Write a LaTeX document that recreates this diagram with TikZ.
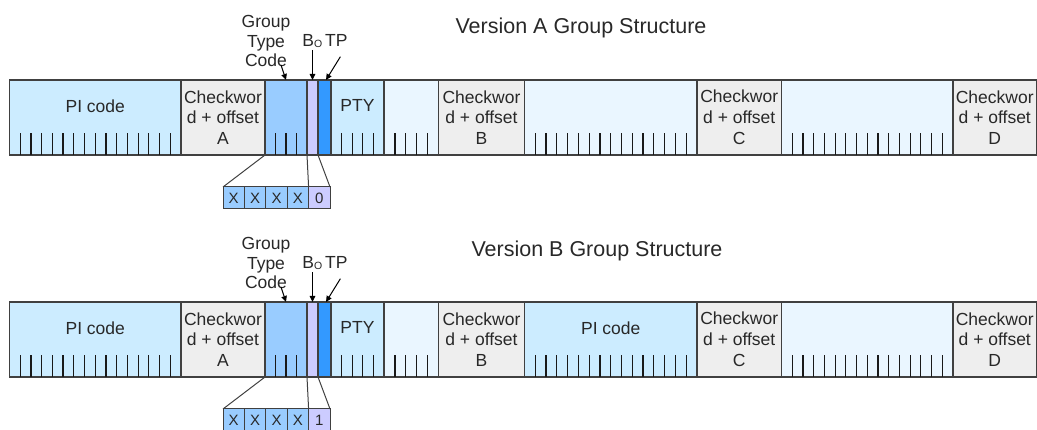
\documentclass[tikz,border=0pt]{standalone}
\usepackage{fontspec}
\setmainfont{Liberation Sans}
\usetikzlibrary{arrows.meta}
\definecolor{piblue}{RGB}{204,236,255}
\definecolor{pale}{RGB}{234,246,255}
\definecolor{cwgray}{RGB}{238,238,238}
\definecolor{gtblue}{RGB}{153,204,255}
\definecolor{lav}{RGB}{204,204,255}
\definecolor{tpblue}{RGB}{51,153,255}
\definecolor{edge}{RGB}{64,64,64}
\definecolor{txt}{RGB}{40,40,40}
\tikzset{
 blk/.style={draw=edge, line width=1.2pt, anchor=north west, minimum height=75pt, inner sep=0pt, outer sep=0pt},
 cw/.style={blk, fill=cwgray, align=center, font=\fontsize{17.5}{20.8}\selectfont, text=txt},
 tickline/.style={draw=black!90, line width=1.2pt},
 cell/.style={draw=edge, line width=1pt, anchor=north west, minimum width=21.4pt, minimum height=22pt, inner sep=0pt, outer sep=0pt, font=\fontsize{15}{15}\selectfont, text=txt},
 lbl/.style={text=txt, font=\fontsize{17.5}{19.5}\selectfont, inner sep=2pt},
 titletext/.style={text=txt, font=\fontsize{21.5}{24}\selectfont, anchor=base, inner sep=0pt},
 arr/.style={-{Triangle[length=6pt,width=5.5pt]}, line width=1pt, black},
 conn/.style={draw=edge, line width=1pt},
}
\newcommand\grouprow[4]{%
 \node[blk, fill=piblue, minimum width=171.5pt] (#2pi) at (9.5,#1) {};
 \node[cw, minimum width=84pt] (#2cwa) at (181,#1) {Checkwor\\d + offset\\A};
 \node[blk, fill=gtblue, minimum width=42pt] (#2gt) at (265,#1) {};
 \node[blk, fill=lav, minimum width=11pt] (#2bo) at (307,#1) {};
 \node[blk, fill=tpblue, minimum width=13pt] (#2tp) at (318,#1) {};
 \node[blk, fill=piblue, minimum width=53pt] (#2pty) at (331,#1) {};
 \node[blk, fill=pale, minimum width=54.5pt] (#2rest) at (384,#1) {};
 \node[cw, minimum width=86pt] (#2cwb) at (438.5,#1) {Checkwor\\d + offset\\B};
 \node[blk, fill=#3, minimum width=172.5pt] (#2dc) at (524.5,#1) {};
 \node[cw, minimum width=84.5pt] (#2cwc) at (697,#1) {Checkwor\\d + offset\\C};
 \node[blk, fill=pale, minimum width=171.5pt] (#2dd) at (781.5,#1) {};
 \node[cw, minimum width=83.5pt] (#2cwd) at (953,#1) {Checkwor\\d + offset\\D};
 \node[lbl, inner sep=0pt] (#2pit) at ([yshift=11pt]#2pi.center) {PI code};
 \node[lbl, inner sep=0pt] (#2ptyt) at ([yshift=12.5pt]#2pty.center) {PTY};
 \foreach \i in {1,...,15} {\draw[tickline] ({9.5+\i*171.5/16},{#1+75}) -- ++(0,-22);}
 \foreach \i in {1,2,3} {\draw[tickline] ({265+\i*10.5},{#1+75}) -- ++(0,-22);}
 \foreach \i in {1,...,4} {\draw[tickline] ({331+\i*10.6},{#1+75}) -- ++(0,-22);}
 \foreach \i in {1,...,4} {\draw[tickline] ({384+\i*10.9},{#1+75}) -- ++(0,-22);}
 \foreach \i in {1,...,15} {\draw[tickline] ({524.5+\i*172.5/16},{#1+75}) -- ++(0,-22);}
 \foreach \i in {1,...,15} {\draw[tickline] ({781.5+\i*171.5/16},{#1+75}) -- ++(0,-22);}
 \node[cell, fill=gtblue] (#2xa) at (223,{#1+107}) {X};
 \node[cell, fill=gtblue] (#2xb) at (244.4,{#1+107}) {X};
 \node[cell, fill=gtblue] (#2xc) at (265.8,{#1+107}) {X};
 \node[cell, fill=gtblue] (#2xd) at (287.2,{#1+107}) {X};
 \node[cell, fill=lav] (#2xbit) at (308.6,{#1+107}) {#4};
 \draw[conn] (#2gt.south west) -- (#2xa.north west);
 \draw[conn] (#2bo.south west) -- (#2xbit.north west);
 \draw[conn] (#2bo.south east) -- (#2xbit.north east);
 \node[lbl, align=center] (#2gtl) at (266,{#1-39}) {Group\\Type\\Code};
 \node[lbl, anchor=base east, inner sep=0pt] (#2bol) at (322.5,{#1-33.5}) {B\raisebox{-1.5pt}{\fontsize{10.5}{10.5}\selectfont O}};
 \node[lbl, anchor=base west, inner sep=0pt] (#2tpl) at (325,{#1-33.5}) {TP};
 \draw[arr] ([yshift=-2pt]#2bol.south -| #2bo.north) -- (#2bo.north);
 \draw[arr] ([xshift=4pt,yshift=-10pt]#2tpl.south) -- ([xshift=1.5pt]#2tp.north);
 \draw[arr] ([xshift=-5pt,yshift=15pt]#2gt.north) -- (#2gt.north);
}
\begin{document}
\begin{tikzpicture}[x=1pt,y=-1pt]
\useasboundingbox (0,0) rectangle (1037,430);
\grouprow{80}{a}{pale}{0}
\grouprow{302}{b}{piblue}{1}
\node[lbl, inner sep=0pt] (bdct) at ([yshift=11pt]bdc.center) {PI code};
\node[titletext] (atitle) at (581,33.5) {Version A Group Structure};
\node[titletext] (btitle) at (597,257) {Version B Group Structure};
\end{tikzpicture}
\end{document}
